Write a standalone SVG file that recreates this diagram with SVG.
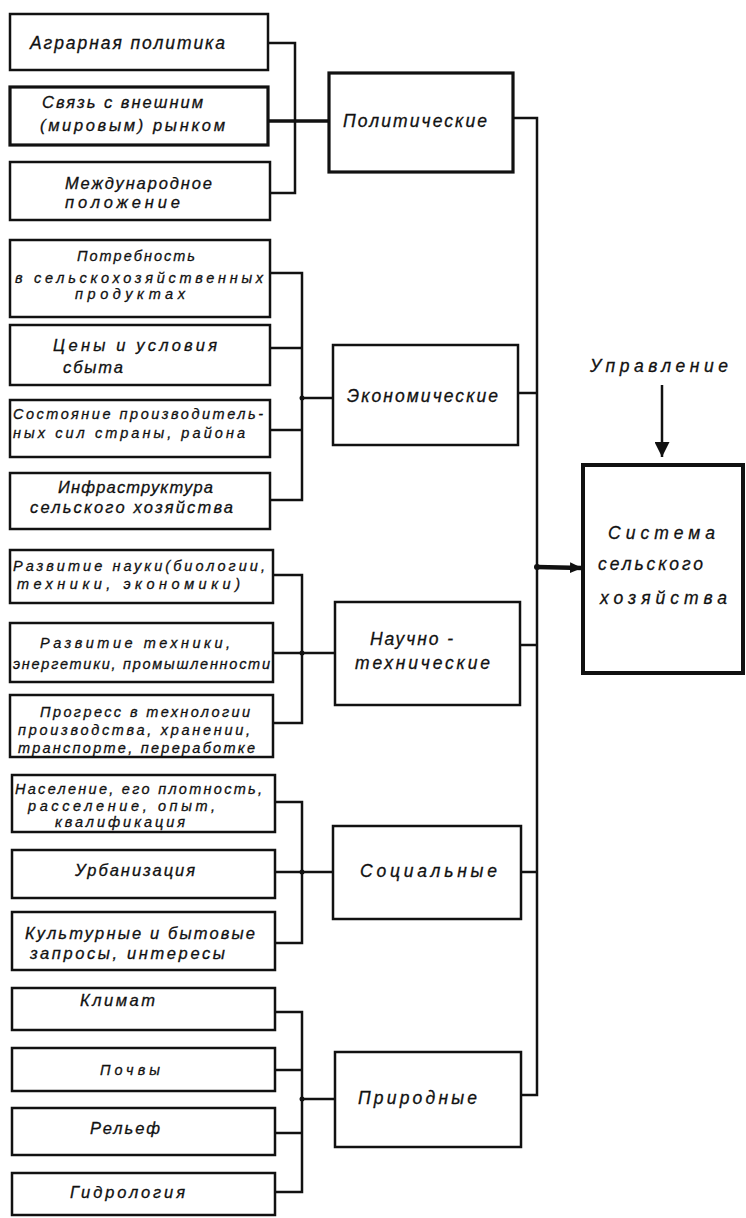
<svg xmlns="http://www.w3.org/2000/svg" width="746" height="1218" viewBox="0 0 746 1218">
<defs>
<style>
.box{fill:#fff;stroke:#111;stroke-width:2.5}
.bold{stroke-width:3.2}
.sys{fill:#fff;stroke:#111;stroke-width:4}
.c{fill:none;stroke:#111;stroke-width:2.5;stroke-linejoin:miter}
.t{font-family:"Liberation Sans","DejaVu Sans",sans-serif;font-style:italic;font-size:16.5px;fill:#111;stroke:#111;stroke-width:0.3}
.s{font-size:14.5px}
.m{font-size:17.5px}
.dot{fill:#111}
</style>
<marker id="ah" viewBox="0 0 10 10" refX="10" refY="5" markerWidth="12" markerHeight="12" markerUnits="userSpaceOnUse" orient="auto">
<path d="M0,0.5 L10,5 L0,9.5 Z" fill="#111"/>
</marker>
<marker id="ah2" viewBox="0 0 10 10" refX="10" refY="5" markerWidth="6" markerHeight="6" orient="auto">
<path d="M0,0 L10,5 L0,10 Z" fill="#111"/>
</marker>
</defs>
<rect width="746" height="1218" fill="#fff"/>

<g id="connectors">
<polyline class="c" points="268,43 295,43 295,193 270,193"/>
<line class="c" x1="268" y1="121" x2="330" y2="121" style="stroke-width:3.5"/>
<polyline class="c" points="270,273 302,273 302,500 270,500"/>
<line class="c" x1="270" y1="348" x2="302" y2="348"/>
<line class="c" x1="270" y1="430" x2="302" y2="430"/>
<line class="c" x1="302" y1="398" x2="333" y2="398"/>
<polyline class="c" points="273,575 302,575 302,723 273,723"/>
<line class="c" x1="273" y1="653" x2="335" y2="653"/>
<polyline class="c" points="275,802 302,802 302,943 275,943"/>
<line class="c" x1="275" y1="872" x2="333" y2="872"/>
<polyline class="c" points="275,1012 302,1012 302,1192 275,1192"/>
<line class="c" x1="275" y1="1070" x2="302" y2="1070"/>
<line class="c" x1="275" y1="1133" x2="302" y2="1133"/>
<line class="c" x1="302" y1="1099" x2="335" y2="1099"/>
<polyline class="c" points="513,118 537,118 537,1095 521,1095"/>
<line class="c" x1="518" y1="393" x2="537" y2="393"/>
<line class="c" x1="520" y1="645" x2="537" y2="645"/>
<line class="c" x1="521" y1="872" x2="537" y2="872"/>
<line class="c" x1="537" y1="567" x2="582" y2="568" style="stroke-width:4.5" marker-end="url(#ah)"/>
<line class="c" x1="662" y1="385" x2="662" y2="457" marker-end="url(#ah2)"/>
<circle class="dot" cx="302" cy="398" r="2.5"/>
<circle class="dot" cx="302" cy="653" r="2.5"/>
<circle class="dot" cx="302" cy="872" r="2.5"/>
<circle class="dot" cx="302" cy="1099" r="2.5"/>
<circle class="dot" cx="537" cy="567" r="3"/>
</g>

<g id="n1"><rect class="box" x="10" y="14" width="258" height="56"/>
<text class="t m" x="30" y="49" textLength="195" lengthAdjust="spacing">Аграрная политика</text></g>
<g id="n2"><rect class="box bold" x="10" y="87" width="258" height="58"/>
<text class="t" x="42" y="108" textLength="161" lengthAdjust="spacing">Связь с внешним</text>
<text class="t" x="40" y="131" textLength="185" lengthAdjust="spacing">(мировым) рынком</text></g>
<g id="n3"><rect class="box" x="10" y="162" width="260" height="58"/>
<text class="t" x="65" y="189" textLength="147" lengthAdjust="spacing">Международное</text>
<text class="t" x="65" y="208" textLength="115" lengthAdjust="spacing">положение</text></g>

<g id="n4"><rect class="box" x="10" y="240" width="260" height="77"/>
<text class="t s" x="77" y="261" textLength="118" lengthAdjust="spacing">Потребность</text>
<text class="t s" x="15" y="283" textLength="248" lengthAdjust="spacing">в сельскохозяйственных</text>
<text class="t s" x="75" y="299" textLength="110" lengthAdjust="spacing">продуктах</text></g>
<g id="n5"><rect class="box" x="10" y="325" width="260" height="60"/>
<text class="t" x="53" y="351" textLength="164" lengthAdjust="spacing">Цены и условия</text>
<text class="t" x="63" y="373" textLength="60" lengthAdjust="spacing">сбыта</text></g>
<g id="n6"><rect class="box" x="10" y="400" width="260" height="57"/>
<text class="t s" x="13" y="419" textLength="250" lengthAdjust="spacing">Состояние производитель-</text>
<text class="t s" x="13" y="438" textLength="232" lengthAdjust="spacing">ных сил страны, района</text></g>
<g id="n7"><rect class="box" x="10" y="473" width="260" height="56"/>
<text class="t" x="58" y="493" textLength="155" lengthAdjust="spacing">Инфраструктура</text>
<text class="t" x="30" y="513" textLength="203" lengthAdjust="spacing">сельского хозяйства</text></g>

<g id="n8"><rect class="box" x="10" y="550" width="263" height="53"/>
<text class="t s" x="13" y="571" textLength="252" lengthAdjust="spacing">Развитие науки(биологии,</text>
<text class="t s" x="17" y="589" textLength="223" lengthAdjust="spacing">техники, экономики)</text></g>
<g id="n9"><rect class="box" x="10" y="623" width="263" height="59"/>
<text class="t s" x="40" y="648" textLength="190" lengthAdjust="spacing">Развитие техники,</text>
<text class="t s" x="13" y="669" textLength="257" lengthAdjust="spacing">энергетики, промышленности</text></g>
<g id="n10"><rect class="box" x="10" y="695" width="263" height="62"/>
<text class="t s" x="40" y="717" textLength="210" lengthAdjust="spacing">Прогресс в технологии</text>
<text class="t s" x="18" y="735" textLength="232" lengthAdjust="spacing">производства, хранении,</text>
<text class="t s" x="18" y="753" textLength="237" lengthAdjust="spacing">транспорте, переработке</text></g>

<g id="n11"><rect class="box" x="12" y="775" width="263" height="57"/>
<text class="t s" x="15" y="794" textLength="247" lengthAdjust="spacing">Население, его плотность,</text>
<text class="t s" x="28" y="811" textLength="187" lengthAdjust="spacing">расселение, опыт,</text>
<text class="t s" x="55" y="827" textLength="130" lengthAdjust="spacing">квалификация</text></g>
<g id="n12"><rect class="box" x="12" y="850" width="263" height="48"/>
<text class="t" x="75" y="876" textLength="120" lengthAdjust="spacing">Урбанизация</text></g>
<g id="n13"><rect class="box" x="12" y="912" width="263" height="58"/>
<text class="t" x="25" y="939" textLength="230" lengthAdjust="spacing">Культурные и бытовые</text>
<text class="t" x="30" y="959" textLength="195" lengthAdjust="spacing">запросы, интересы</text></g>

<g id="n14"><rect class="box" x="12" y="988" width="263" height="42"/>
<text class="t" x="80" y="1006" textLength="75" lengthAdjust="spacing">Климат</text></g>
<g id="n15"><rect class="box" x="12" y="1048" width="263" height="43"/>
<text class="t s" x="100" y="1075" textLength="60" lengthAdjust="spacing">Почвы</text></g>
<g id="n16"><rect class="box" x="12" y="1108" width="263" height="47"/>
<text class="t" x="90" y="1134" textLength="70" lengthAdjust="spacing">Рельеф</text></g>
<g id="n17"><rect class="box" x="12" y="1173" width="263" height="42"/>
<text class="t" x="70" y="1198" textLength="115" lengthAdjust="spacing">Гидрология</text></g>

<g id="pol"><rect class="box bold" x="329" y="73" width="184" height="99"/>
<text class="t m" x="343" y="127" textLength="144" lengthAdjust="spacing">Политические</text></g>
<g id="eco"><rect class="box" x="333" y="345" width="185" height="100"/>
<text class="t m" x="347" y="402" textLength="151" lengthAdjust="spacing">Экономические</text></g>
<g id="sci"><rect class="box" x="335" y="602" width="185" height="103"/>
<text class="t m" x="370" y="645" textLength="83" lengthAdjust="spacing">Научно -</text>
<text class="t m" x="355" y="669" textLength="135" lengthAdjust="spacing">технические</text></g>
<g id="soc"><rect class="box" x="333" y="826" width="188" height="93"/>
<text class="t m" x="360" y="877" textLength="137" lengthAdjust="spacing">Социальные</text></g>
<g id="nat"><rect class="box" x="335" y="1052" width="186" height="95"/>
<text class="t m" x="358" y="1104" textLength="119" lengthAdjust="spacing">Природные</text></g>

<g id="mgmt"><text class="t m" x="590" y="372" textLength="138" lengthAdjust="spacing">Управление</text></g>
<g id="system"><rect class="sys" x="583" y="465" width="160" height="208"/>
<text class="t m" x="608" y="539" textLength="107" lengthAdjust="spacing">Система</text>
<text class="t m" x="598" y="570" textLength="105" lengthAdjust="spacing">сельского</text>
<text class="t m" x="600" y="604" textLength="127" lengthAdjust="spacing">хозяйства</text></g>
</svg>
